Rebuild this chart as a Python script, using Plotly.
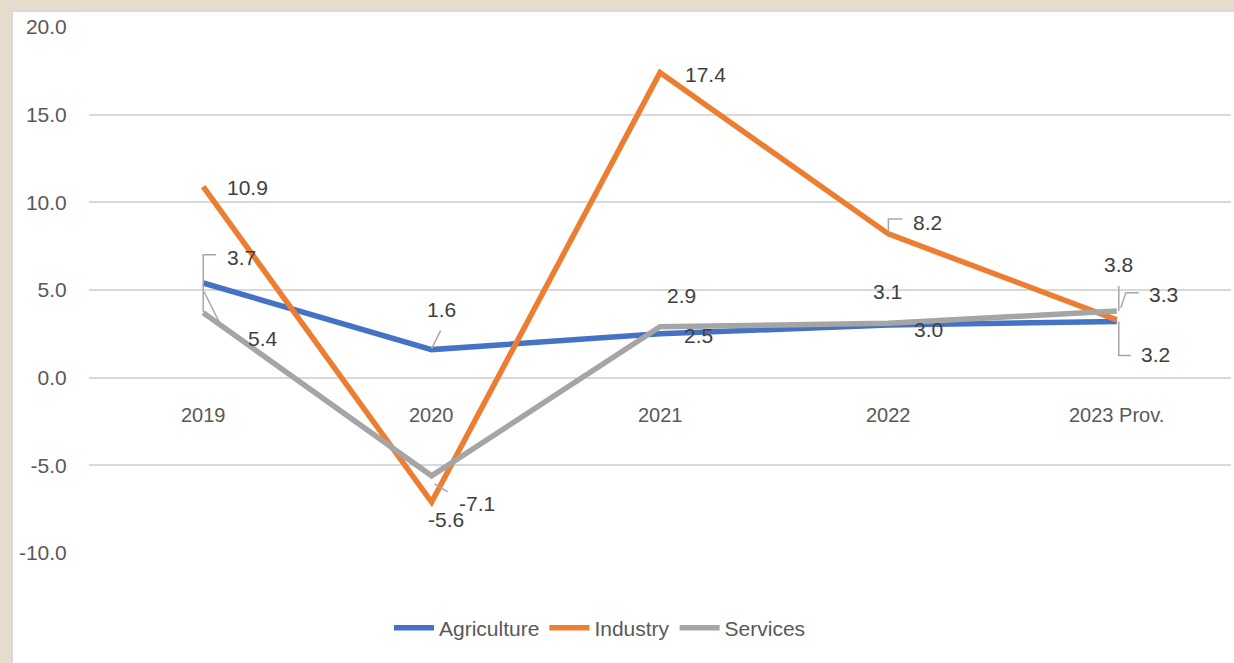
import plotly.graph_objects as go

categories = ["2019", "2020", "2021", "2022", "2023 Prov."]
agriculture = [5.4, 1.6, 2.5, 3.0, 3.2]
industry = [10.9, -7.1, 17.4, 8.2, 3.3]
services = [3.7, -5.6, 2.9, 3.1, 3.8]
y_ticks = [-10, -5, 0, 5, 10, 15, 20]

series = [
    ("Agriculture", agriculture, "#4472C4"),
    ("Industry", industry, "#ED7D31"),
    ("Services", services, "#A5A5A5"),
]

# label offsets (px, right / down) from each point to its label centre
label_offsets = {
    "Agriculture": [(60, 56), (10, -40), (38, 2), (40, 4), (39, 33)],
    "Industry": [(44, 1), (45, 1), (45, 2), (39, -11), (47, -25)],
    "Services": [(38, -55), (14, 44), (21, -31), (-1, -32), (2, -47)],
}
# leader lines (px polyline relative to point, right / down)
leaders = {
    ("Agriculture", 0): [(1, 9), (18, 43)],
    ("Agriculture", 1): [(0, -1), (9, -19)],
    ("Agriculture", 4): [(2, 0), (2, 34), (14, 34)],
    ("Industry", 3): [(0, -1), (0, -15), (14, -15)],
    ("Industry", 4): [(4, -12), (9, -27), (22, -27)],
    ("Services", 0): [(0, -1), (0, -58), (13, -58)],
    ("Services", 1): [(3, 8), (16, 16)],
    ("Services", 4): [(2, 0), (2, -25)],
}

FONT = "Liberation Sans, Arial, sans-serif"
fig = go.Figure()
for name, vals, color in series:
    fig.add_trace(go.Scatter(
        x=list(range(len(categories))), y=vals, name=name, mode="lines",
        line=dict(color=color, width=5.5),
    ))

annotations = []
shapes = []
# white panel with light border
shapes.append(dict(type="rect", xref="paper", yref="paper",
                   x0=(12 - 89) / 1142, x1=(1240 - 89) / 1142,
                   y0=(553 - 670) / 526, y1=(553 - 11) / 526,
                   fillcolor="white", line=dict(color="#d9d9d9", width=2),
                   layer="below"))

for name, vals, color in series:
    for i, v in enumerate(vals):
        dx, dy = label_offsets[name][i]
        annotations.append(dict(
            x=i, y=v, xref="x", yref="y", text=f"{v:.1f}", showarrow=False,
            xshift=dx, yshift=-dy,
            font=dict(family=FONT, size=21, color="#404040"),
        ))
        if (name, i) in leaders:
            pts = leaders[(name, i)]
            path = "M " + " L ".join(f"{px},{-py}" for px, py in pts)
            shapes.append(dict(type="path", xref="x", yref="y",
                               xsizemode="pixel", ysizemode="pixel",
                               xanchor=i, yanchor=v, path=path,
                               line=dict(color="#A6A6A6", width=1.5)))

for i, c in enumerate(categories):
    annotations.append(dict(x=i, y=-2.11, xref="x", yref="y", text=c,
                            showarrow=False,
                            font=dict(family=FONT, size=20, color="#595959")))

fig.update_layout(
    width=1234, height=663,
    margin=dict(l=89, r=3, t=27, b=110),
    paper_bgcolor="#E6DCCD",
    plot_bgcolor="white",
    showlegend=True,
    legend=dict(orientation="h", x=(600 - 89) / 1142, xanchor="center",
                y=(553 - 628) / 526, yanchor="middle",
                font=dict(family=FONT, size=21, color="#595959"),
                itemwidth=40, bgcolor="rgba(0,0,0,0)"),
    xaxis=dict(range=[-0.5, 4.5], showgrid=False, zeroline=False,
               showticklabels=False, showline=False, fixedrange=True),
    yaxis=dict(range=[-10, 20], tickvals=y_ticks,
               ticktext=[f"{t:.1f}" for t in y_ticks],
               showgrid=True, gridcolor="#D9D9D9", gridwidth=1.5,
               zeroline=False, showline=False,
               ticks="outside", ticklen=17, tickcolor="rgba(0,0,0,0)",
               tickfont=dict(family=FONT, size=21, color="#595959")),
    annotations=annotations,
    shapes=shapes,
)
fig.write_html("out.html")
